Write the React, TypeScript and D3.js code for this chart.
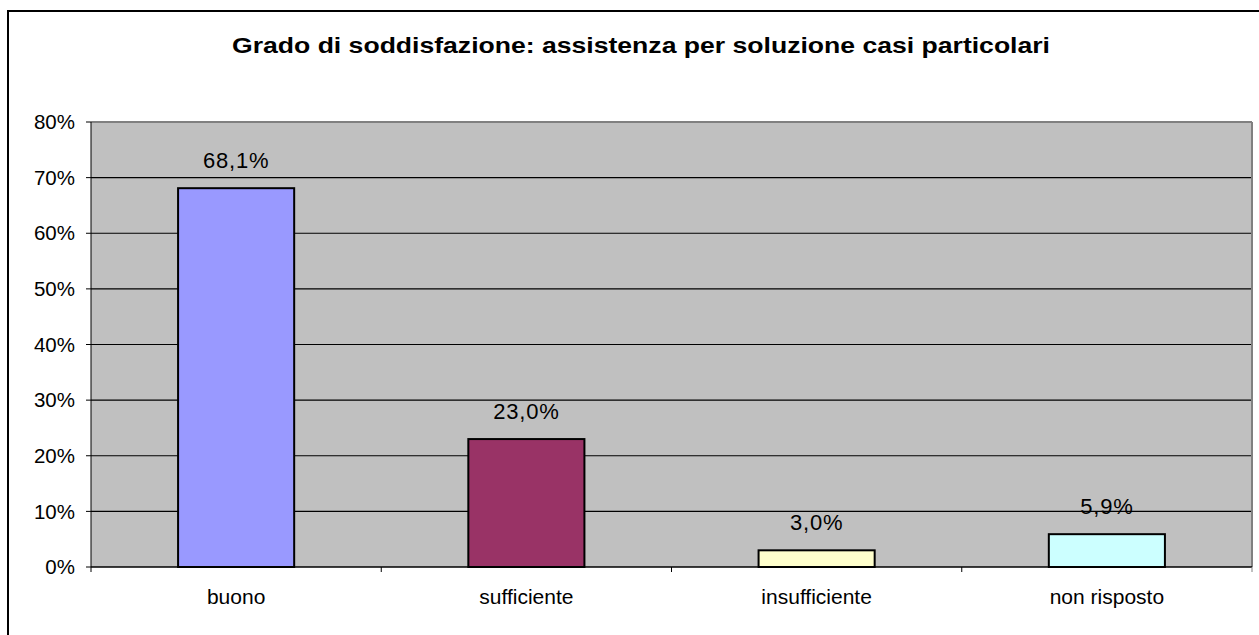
import React from "react";
import * as d3 from "d3";

const categories = ["buono", "sufficiente", "insufficiente", "non risposto"];
const values = [68.1, 23.0, 3.0, 5.9];
const valueLabels = ["68,1%", "23,0%", "3,0%", "5,9%"];
const colors = ["#9999FF", "#993366", "#FFFFCC", "#CCFFFF"];
const yTicks = [0, 10, 20, 30, 40, 50, 60, 70, 80];
const title = "Grado di soddisfazione: assistenza per soluzione casi particolari";

export default function App() {
  const W = 1259, H = 635;
  const left = 91, right = 1252, top = 122, bottom = 567;
  const x = d3.scaleBand<string>().domain(categories).range([left, right]).paddingInner(0.6).paddingOuter(0.3);
  const xOuter = d3.scaleBand<string>().domain(categories).range([left, right]);
  const y = d3.scaleLinear().domain([0, 80]).range([bottom, top]);
  const font = "'Liberation Sans', Arial, sans-serif";
  return (
    <div style={{ position: "absolute", left: 0, top: 0 }}>
      <svg width={W} height={H} style={{ display: "block", background: "#fff" }}>
        <rect x={8} y={11} width={W + 20} height={H + 20} fill="#fff" stroke="#000" strokeWidth={2} />
        <text x={641} y={53} textAnchor="middle" fontFamily={font} fontWeight="bold" fontSize={22}
          textLength={818} lengthAdjust="spacingAndGlyphs">{title}</text>
        <rect x={left} y={top} width={right - left} height={bottom - top} fill="#C0C0C0" />
        {yTicks.slice(1, -1).map((t) => (
          <line key={t} x1={left} x2={right} y1={y(t)} y2={y(t)} stroke="#000" strokeWidth={1.2} />
        ))}
        <line x1={left} x2={right} y1={top} y2={top} stroke="#808080" strokeWidth={2} />
        <line x1={right} x2={right} y1={top} y2={bottom} stroke="#808080" strokeWidth={2} />
        {categories.map((c, i) => (
          <g key={c}>
            <rect x={x(c)!} y={y(values[i])} width={x.bandwidth()} height={bottom - y(values[i])}
              fill={colors[i]} stroke="#000" strokeWidth={2} />
            <text x={x(c)! + x.bandwidth() / 2} y={y(values[i]) - 20} textAnchor="middle"
              fontFamily={font} fontSize={22} letterSpacing={0.8} fill="#000">{valueLabels[i]}</text>
            <text x={x(c)! + x.bandwidth() / 2} y={604} textAnchor="middle"
              fontFamily={font} fontSize={21} fill="#000">{c}</text>
          </g>
        ))}
        <line x1={left} x2={left} y1={top} y2={bottom} stroke="#000" strokeWidth={1} />
        <line x1={left} x2={right} y1={bottom} y2={bottom} stroke="#000" strokeWidth={1.5} />
        {yTicks.map((t) => (
          <g key={t}>
            <line x1={left - 5} x2={left} y1={y(t)} y2={y(t)} stroke="#000" strokeWidth={1} />
            <text x={75} y={y(t)} dy="0.35em" textAnchor="end" fontFamily={font} fontSize={20.5} fill="#000">{t}%</text>
          </g>
        ))}
        {categories.map((c) => (
          <line key={c} x1={xOuter(c)!} x2={xOuter(c)!} y1={bottom} y2={bottom + 5} stroke="#000" strokeWidth={1} />
        ))}
        <line x1={right} x2={right} y1={bottom} y2={bottom + 5} stroke="#808080" strokeWidth={1} />
      </svg>
    </div>
  );
}
